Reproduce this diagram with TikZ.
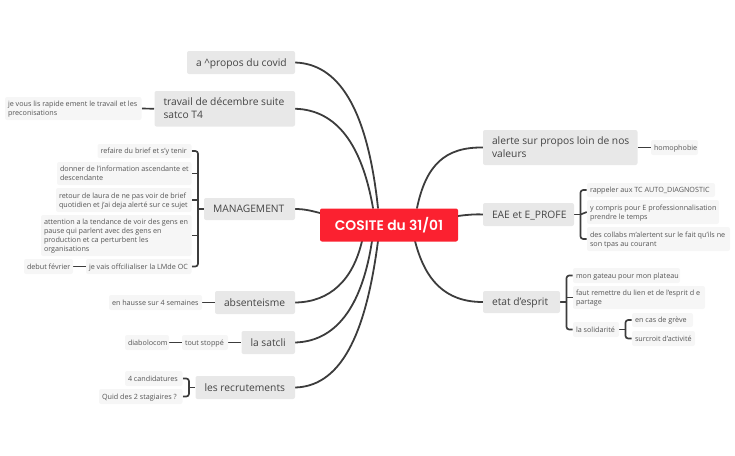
\documentclass[tikz,border=0pt]{standalone}
\usepackage{fontspec}
\setmainfont{Open Sans}
\newfontfamily\rootfont{Poppins}[BoldFont={* SemiBold}]
\usetikzlibrary{backgrounds,calc}
\definecolor{linec}{HTML}{3C3C3C}
\definecolor{mainfill}{HTML}{E8E8E8}
\definecolor{subfill}{HTML}{F6F6F6}
\definecolor{rootfill}{HTML}{FB2130}
\definecolor{maintext}{HTML}{444444}
\definecolor{subtext}{HTML}{555555}
\tikzset{
  rootbox/.style={fill=rootfill,rounded corners=1.5pt,inner sep=0pt,text=white},
  mainbox/.style={fill=mainfill,rounded corners=1.5pt,inner sep=0pt,text=maintext},
  subbox/.style={fill=subfill,rounded corners=1.5pt,inner sep=0pt,text=subtext},
  trunk/.style={draw=linec,line width=1.35pt,line cap=round},
  limb/.style={draw=linec,line width=1.25pt,rounded corners=2pt},
}
% style, name, x1, y1, x2, y2, padding, font setup, text
\newcommand{\bx}[9]{%
  \pgfmathsetmacro{\bw}{(#5-#3)*0.75}%
  \pgfmathsetmacro{\bh}{(#6-#4)*0.75}%
  \pgfmathsetmacro{\bt}{(#5-#3-2*#7)*0.75}%
  \node[#1,minimum width=\bw pt,minimum height=\bh pt] (#2) at ({(#3+#5)/2},{(#4+#6)/2})
    {\makebox[\bt pt][l]{#8\smash{\raisebox{\rs}{\begin{tabular}[c]{@{}l@{}}#9\end{tabular}}}}};}
\newcommand{\fm}{\fontsize{7.7}{9.75}\selectfont\def\rs{-2.7pt}}
\newcommand{\fs}{\fontsize{5.4}{6.75}\selectfont\def\rs{-2.0pt}}
\begin{document}
\begin{tikzpicture}[x=0.75pt,y=-0.75pt]
\useasboundingbox (0,0) rectangle (735,455);
% centre
\node[rootbox,minimum width=103.5pt,minimum height=24.75pt] (root) at (389,225)
  {\rootfont\bfseries\fontsize{10.4}{12}\selectfont COSITE du 31/01};
% left main
\bx{mainbox}{covid}{187}{51}{295}{74}{9}{\fm}{a \^{}propos du covid}
\bx{mainbox}{travail}{154.5}{91}{295}{126.5}{9}{\fm}{travail de décembre suite\\satco T4}
\bx{mainbox}{mgmt}{204}{198}{295}{220}{9}{\fm}{MANAGEMENT}
\bx{mainbox}{abs}{215}{291}{295}{314}{9}{\fm}{absenteisme}
\bx{mainbox}{satcli}{241.5}{331}{295}{354}{9}{\fm}{la satcli}
\bx{mainbox}{recrut}{195.5}{376}{295}{399}{9}{\fm}{les recrutements}
% left sub
\bx{subbox}{jevous}{5}{97}{141.5}{120}{3}{\fs}{je vous lis rapide ement le travail et les\\preconisations}
\bx{subbox}{refaire}{97.5}{144}{191.5}{158}{3}{\fs}{refaire du brief et s'y tenir}
\bx{subbox}{donner}{57}{162}{191.5}{185}{3}{\fs}{donner de l'information ascendante et\\descendante}
\bx{subbox}{retour}{56}{188}{191.5}{212}{3}{\fs}{retour de laura de ne pas voir de brief\\quotidien et j'ai deja alerté sur ce sujet}
\bx{subbox}{attention}{41}{215}{191.5}{256}{3}{\fs}{attention a la tendance de voir des gens en\\pause qui parlent avec des gens en\\production et ca perturbent les\\organisations}
\bx{subbox}{jevais}{86}{259}{191.5}{274}{3}{\fs}{je vais offcilialiser la LMde OC}
\bx{subbox}{debut}{24}{259}{73}{274}{3}{\fs}{debut février}
\bx{subbox}{hausse}{109}{295}{202}{310}{3}{\fs}{en hausse sur 4 semaines}
\bx{subbox}{stoppe}{182}{335}{228}{350}{3}{\fs}{tout stoppé}
\bx{subbox}{diabolo}{125}{335}{169}{350}{3}{\fs}{diabolocom}
\bx{subbox}{cand}{125}{371}{182.5}{386}{3}{\fs}{4 candidatures}
\bx{subbox}{quid}{99}{389}{182.5}{404}{3}{\fs}{Quid des 2 stagiaires ?}
% right main
\bx{mainbox}{alerte}{483}{130}{637.5}{165}{9}{\fm}{alerte sur propos loin de nos\\valeurs}
\bx{mainbox}{eae}{483}{203}{574}{226}{9}{\fm}{EAE et E\_PROFE}
\bx{mainbox}{etat}{483}{291}{560}{313}{9}{\fm}{etat d'esprit}
% right sub
\bx{subbox}{homo}{651}{140}{698}{155}{3}{\fs}{homophobie}
\bx{subbox}{rappeler}{587}{183}{715}{197}{3}{\fs}{rappeler aux TC AUTO\_DIAGNOSTIC}
\bx{subbox}{compris}{587}{200}{719}{224}{3}{\fs}{y compris pour E professionnalisation\\prendre le temps}
\bx{subbox}{collabs}{587}{227}{730}{251}{3}{\fs}{des collabs m'alertent sur le fait qu'ils ne\\son tpas au courant}
\bx{subbox}{gateau}{573}{268}{680}{283}{3}{\fs}{mon gateau pour mon plateau}
\bx{subbox}{faut}{573}{286}{705}{309}{3}{\fs}{faut remettre du lien et de l'esprit d e\\partage}
\bx{subbox}{solid}{573}{322}{619}{337}{3}{\fs}{la solidarité}
\bx{subbox}{greve}{632}{313}{693}{327}{3}{\fs}{en cas de grève}
\bx{subbox}{surcroit}{632}{331}{695}{346}{3}{\fs}{surcroit d'activité}
% connector ends and bus lines
\coordinate (rcovid) at (378,208);
\coordinate (rtrav) at (373,208);
\coordinate (rmgmt) at (320,213);
\coordinate (rabs) at (362,241);
\coordinate (rsat) at (372,241);
\coordinate (rrec) at (378,241);
\coordinate (ralert) at (417,208);
\coordinate (reae) at (458,216);
\coordinate (retat) at (415,241);
\coordinate (busm) at (198,209);
\coordinate (busr) at (189,387.5);
\coordinate (buse) at (580.5,214.5);
\coordinate (bust) at (566.5,302);
\coordinate (buss) at (625.5,329.5);
\begin{scope}[on background layer]
\draw[trunk] (covid.east) .. controls (337,64) and (367,105) .. (rcovid);
\draw[trunk] (travail.east) .. controls (337,110) and (362,145) .. (rtrav);
\draw[trunk] (mgmt.east) .. controls (305,209) and (312,211) .. (rmgmt);
\draw[trunk] (abs.east) .. controls (330,302) and (353,280) .. (rabs);
\draw[trunk] (satcli.east) .. controls (340,341) and (363,300) .. (rsat);
\draw[trunk] (recrut.east) .. controls (345,386) and (367,325) .. (rrec);
\draw[trunk] (alerte.west) .. controls (445,147) and (426,165) .. (ralert);
\draw[trunk] (eae.west) .. controls (475,214) and (465,215) .. (reae);
\draw[trunk] (etat.west) .. controls (445,302) and (425,280) .. (retat);
% limbs
\draw[limb] (jevous.east) -- (travail.west);
\draw[limb] (refaire.east) -| (busm) |- (jevais.east);
\draw[limb] (mgmt.west) -- (busm);
\draw[limb] (donner.east) -- (donner.east -| busm);
\draw[limb] (retour.east) -- (retour.east -| busm);
\draw[limb] (attention.east) -- (attention.east -| busm);
\draw[limb] (debut.east) -- (jevais.west);
\draw[limb] (hausse.east) -- (abs.west);
\draw[limb] (diabolo.east) -- (stoppe.west);
\draw[limb] (stoppe.east) -- (satcli.west);
\draw[limb] (cand.east) -| (busr) |- (quid.east);
\draw[limb] (recrut.west) -- (busr);
\draw[limb] (alerte.east) -- (homo.west);
\draw[limb] (rappeler.west) -| (buse) |- (collabs.west);
\draw[limb] (eae.east) -- (buse);
\draw[limb] (compris.west) -- (buse);
\draw[limb] (gateau.west) -| (bust) |- (solid.west);
\draw[limb] (etat.east) -- (bust);
\draw[limb] (faut.west) -- (faut.west -| bust);
\draw[limb] (greve.west) -| (buss) |- (surcroit.west);
\draw[limb] (solid.east) -- (buss);
\end{scope}
\end{tikzpicture}
\end{document}
